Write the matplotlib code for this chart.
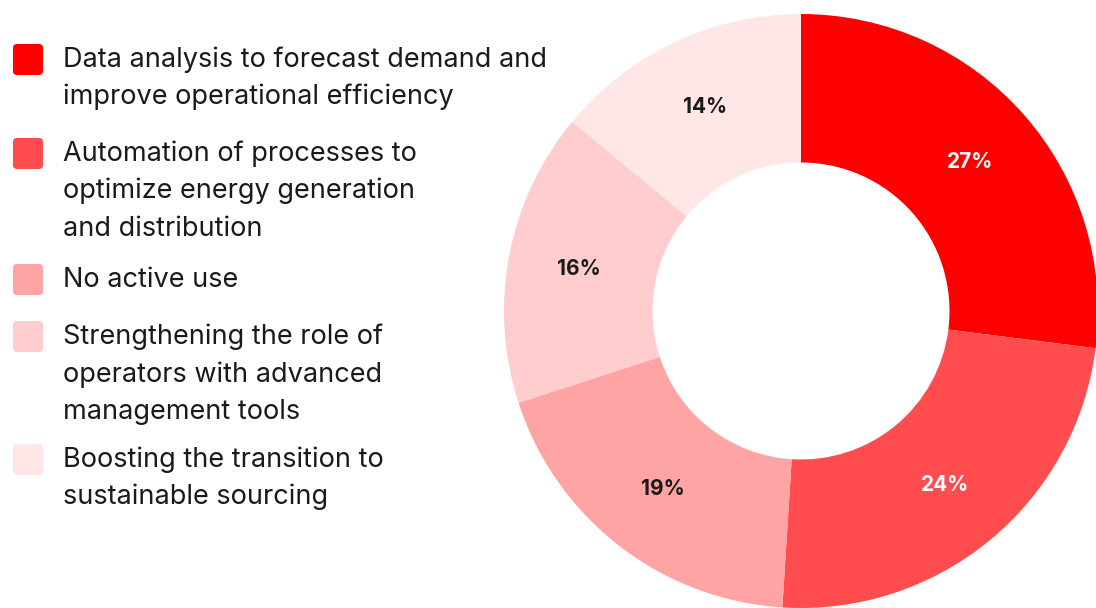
import matplotlib.pyplot as plt
from matplotlib.patches import FancyBboxPatch

labels = [
    "Data analysis to forecast demand and\nimprove operational efficiency",
    "Automation of processes to\noptimize energy generation\nand distribution",
    "No active use",
    "Strengthening the role of\noperators with advanced\nmanagement tools",
    "Boosting the transition to\nsustainable sourcing",
]
shares = [27, 24, 19, 16, 14]
colors = ["#FF0000", "#FF4D4F", "#FFA4A4", "#FFCDCD", "#FFE7E7"]
label_colors = ["white", "white", "#1a1a1a", "#1a1a1a", "#1a1a1a"]

FONT = "Inter"

fig = plt.figure(figsize=(10.96, 6.08), dpi=100)

# donut, placed in pixels: centre (801, 311), radius 297
W, H = 1096, 608
ax = fig.add_axes([504 / W, (H - 311 - 297) / H, 594 / W, 594 / H])
wedges, _, autotexts = ax.pie(
    shares, colors=colors, startangle=90, counterclock=False, radius=1,
    wedgeprops=dict(width=0.5, linewidth=0), pctdistance=0.76,
    autopct=lambda p: f"{p:.0f}%",
)
for t, c in zip(autotexts, label_colors):
    t.set_color(c)
    t.set_fontsize(15)
    t.set_fontweight("bold")
    t.set_fontfamily(FONT)
ax.set_xlim(-1, 1)
ax.set_ylim(-1, 1)

# legend drawn on a pixel-unit overlay
lax = fig.add_axes([0, 0, 1, 1], zorder=-1)
lax.set_xlim(0, W)
lax.set_ylim(H, 0)
lax.axis("off")

baselines = [67, 161, 287, 344, 467]
for lab, col, yb in zip(labels, colors, baselines):
    lax.add_patch(FancyBboxPatch((13, yb - 23), 30, 31,
                                 boxstyle="round,pad=0,rounding_size=4",
                                 facecolor=col, edgecolor="none"))
    for i, line in enumerate(lab.split("\n")):
        lax.text(63, yb + i * 37.5, line, fontsize=19.5, family=FONT,
                 color="#1a1a1a", va="baseline", ha="left")

fig.savefig("out.png", dpi=100)
